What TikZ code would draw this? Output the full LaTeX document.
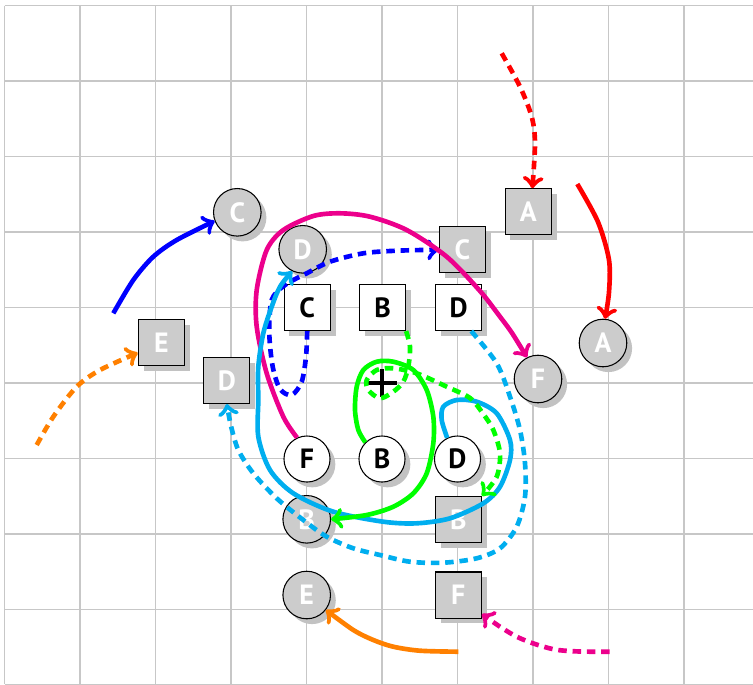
\documentclass[tikz,border=0pt]{standalone}
\usepackage{fontspec}
\newfontfamily\lblfont{PT Sans}
\usetikzlibrary{shadows,calc}
\definecolor{cmykcyan}{HTML}{00AEEF}
\definecolor{cmykmag}{HTML}{EC008C}
\definecolor{orng}{HTML}{FF8000}
\begin{document}
\begin{tikzpicture}[x=0.013245cm, y=-0.013245cm,
  gridline/.style={draw=black!22, line width=0.4pt},
  base/.style={draw=black, line width=0.4pt, inner sep=0pt,
    font=\lblfont\bfseries\fontsize{10.5}{11}\selectfont,
    drop shadow={shadow xshift=2pt, shadow yshift=-2pt, fill=black!24, opacity=1}},
  wcirc/.style={base, circle, fill=white, text=black, minimum size=0.61cm},
  wsq/.style={base, rectangle, fill=white, text=black, minimum size=0.61cm},
  gcirc/.style={base, circle, fill=black!20, text=white, minimum size=0.63cm},
  gsq/.style={base, rectangle, fill=black!20, text=white, minimum size=0.61cm},
  conn/.style={line width=1.75pt, ->, line join=round},
  dsh/.style={dash pattern=on 3.2pt off 2.2pt}
]
\useasboundingbox (0,0) rectangle (753,684);
% grid
\foreach \k in {-5,...,4} {
  \draw[gridline] ({382+75.5*\k},5.5) -- ({382+75.5*\k},684);
  \draw[gridline] (4.5,{383+75.5*\k}) -- (753,{383+75.5*\k});
}
% nodes
\node[wcirc] (cF) at (307,459) {F};
\node[wcirc] (cB) at (382,459) {B};
\node[wcirc] (cD) at (457.5,459) {D};
\node[wsq] (sqC) at (307.2,307.5) {C};
\node[wsq] (sqB) at (382.5,307.5) {B};
\node[wsq] (sqD) at (458.7,307.5) {D};
\node[gcirc] (gcC) at (237.3,212.3) {C};
\node[gcirc] (gcD) at (302.7,249.3) {D};
\node[gcirc] (gcF) at (538,379) {F};
\node[gcirc] (gcA) at (603,343) {A};
\node[gcirc] (gcB) at (306.7,519.3) {B};
\node[gcirc] (gcE) at (306.7,595) {E};
\node[gsq] (gsA) at (528.2,211.8) {A};
\node[gsq] (gsC) at (462.5,249.7) {C};
\node[gsq] (gsE) at (161.3,342.8) {E};
\node[gsq] (gsD) at (226.8,380.5) {D};
\node[gsq] (gsB) at (458.3,519.5) {B};
\node[gsq] (gsF) at (458.3,595) {F};
% centre mark
\coordinate (ctr) at (382,383);
\draw[line width=1.6pt] ($(ctr)+(-15,0)$) -- ($(ctr)+(15,0)$)
  ($(ctr)+(0,-14)$) -- ($(ctr)+(0,14)$);
% free ends
\coordinate (rd0) at (501.7,53.3);
\coordinate (rs0) at (577.3,184);
\coordinate (bs0) at (113.3,313.3);
\coordinate (od0) at (36.7,445);
\coordinate (os0) at (458.3,651.7);
\coordinate (md0) at (609.7,651.7);
% connectors
\draw[conn, red, dsh] plot[smooth] coordinates {(rd0) (520,86.7) (531.7,116.7) (535,143.3) (gsA.80)};
\draw[conn, red] plot[smooth] coordinates {(rs0) (598,222) (609,260) (609,292) (gcA.85)};
\draw[conn, blue] plot[smooth] coordinates {(bs0) (133.3,280) (153.3,256.7) (176.7,240) (gcC.201)};
\draw[conn, orng, dsh] plot[smooth] coordinates {(od0) (53.3,416.7) (76.7,386.7) (100,370) (gsE.203)};
\draw[conn, blue, dsh] plot[smooth] coordinates {(sqC.south) (306,356.7) (301.7,381.7) (291.7,395) (280,389) (272.7,366.7) (269.3,333.3) (271.7,300) (285,285) (306.7,273.3) (330,261.7) (363.3,253.3) (396.7,250.7) (gsC.west)};
\draw[conn, cmykmag] plot[smooth] coordinates {(cF.115) (283.3,416.7) (266.7,373.3) (256.7,326.7) (256.7,290) (266.7,250) (283.3,230) (313.3,216) (340,213.3) (370,216.7) (406.7,230) (446.7,256.7) (480,291) (500,316.7) (512,333) (gcF.117)};
\draw[conn, cmykcyan] plot[smooth] coordinates {(cD.116) (441.7,420) (443.3,406.7) (456.7,400) (476.7,401.7) (496.7,413.3) (510,440) (510,460) (500,486.7) (483.3,503.3) (450,518.3) (416.7,523.3) (383.3,521.7) (333.3,511.7) (293.3,493.3) (270,470) (258.3,436.7) (258.3,400) (258.3,366.7) (263.3,333.3) (271.7,306.7) (280,286.7) (gcD.244)};
\draw[conn, green] plot[smooth] coordinates {(cB.135) (358.3,430) (355,410) (356.7,386.7) (363.3,370) (376.7,361.7) (393.3,361.7) (413.3,370) (426.7,390) (433.3,416.7) (433.3,443.3) (426.7,473.3) (413.3,493.3) (393.3,506.7) (366.7,515) (gcB.east)};
\draw[conn, green, dsh] plot[smooth] coordinates {(sqB.south east) (410,346.7) (408.3,366.7) (403.3,381.7) (393.3,391.7) (380,398.3) (368.3,390) (366.7,380) (376.7,370) (393.3,368.3) (416.7,373.3) (446.7,386.7) (470,398) (483.3,414) (493.3,430) (500,453.3) (496.7,476.7) (gsB.north east)};
\draw[conn, cmykcyan, dsh] plot[smooth] coordinates {(sqD.298) (496.7,363.3) (510,396.7) (520,430) (525,463.3) (525,496.7) (516.7,526.7) (500,548.3) (476.7,558.3) (443.3,562.7) (410,561.7) (380,555) (353.3,548.3) (326.7,536.7) (303.3,520) (276.7,498.3) (253.3,473.3) (238.3,450) (231,426) (gsD.south)};
\draw[conn, orng] plot[smooth] coordinates {(os0) (420,650.7) (393.3,646.7) (373.3,640) (353.3,630) (gcE.322)};
\draw[conn, cmykmag, dsh] plot[smooth] coordinates {(md0) (580,651.5) (556,649.7) (535,644) (516.7,636.7) (500,626.7) (gsF.321)};
\end{tikzpicture}
\end{document}
